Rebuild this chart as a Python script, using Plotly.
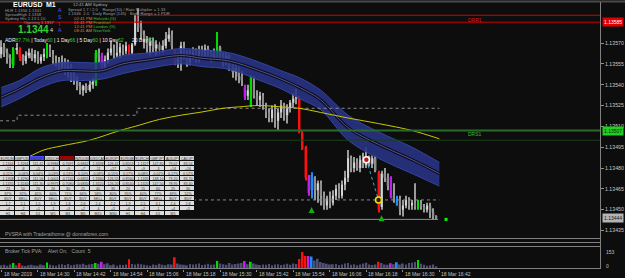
import numpy as np
import plotly.graph_objects as go

W, H = 625, 278
BG = "#0d0d0d"

# ---------------- data (prices in points, 1 point = 0.00001) ----------------
opens_pts = [
113562,113567,113563,113559,113554,113565,113565,113560,113557,113561,
113563,113559,113562,113557,113560,113561,113567,113562,113557,113556,
113553,113556,113550,113553,113548,113543,113539,113536,113539,113536,
113540,113541,113563,113561,113553,113558,113563,113566,113561,113563,
113567,113564,113567,113563,113569,113585,113581,113576,113572,113568,
113571,113566,113569,113565,113568,113573,113576,113563,113556,113559,
113568,113561,113556,113561,113563,113559,113565,113561,113566,113563,
113559,113560,113567,113561,113558,113561,113555,113549,113552,113546,
113538,113532,113525,113545,113532,113529,113532,113525,113520,113516,
113522,113514,113520,113525,113518,113523,113527,113530,113531,113505,
113495,113473,113464,113473,113464,113469,113460,113453,113458,113455,
113460,113465,113460,113468,113473,113487,113480,113484,113480,113486,
113482,113488,113483,113487,113477,113452,113476,113473,113473,113460,
113453,113458,113450,113453,113457,113453,113455,113451,113455,113452,
113450,113453,113448,113445]
highs_pts = [
113572,113570,113566,113562,113567,113570,113567,113562,113564,113566,
113566,113565,113564,113562,113566,113570,113569,113565,113561,113560,
113561,113559,113558,113555,113550,113546,113542,113540,113541,113543,
113545,113565,113566,113563,113561,113566,113572,113569,113571,113570,
113569,113571,113569,113570,113590,113595,113586,113579,113575,113574,
113574,113572,113571,113572,113578,113581,113579,113565,113563,113571,
113571,113565,113565,113567,113566,113568,113568,113569,113568,113565,
113566,113578,113568,113563,113563,113562,113558,113555,113553,113550,
113540,113540,113547,113546,113536,113535,113534,113527,113523,113525,
113526,113523,113529,113527,113526,113529,113534,113537,113532,113507,
113496,113475,113477,113474,113471,113471,113463,113460,113463,113464,
113468,113469,113471,113478,113493,113489,113488,113487,113489,113491,
113495,113489,113489,113489,113478,113478,113480,113476,113474,113469,
113460,113460,113457,113460,113459,113457,113469,113457,113457,113454,
113455,113455,113451,113446]
lows_pts = [
113559,113560,113555,113552,113552,113562,113557,113554,113555,113559,
113557,113556,113555,113555,113557,113559,113560,113555,113553,113549,
113550,113547,113545,113542,113540,113536,113533,113532,113534,113535,
113537,113539,113556,113550,113550,113555,113561,113558,113559,113559,
113561,113562,113561,113562,113568,113578,113572,113566,113563,113561,
113563,113561,113562,113563,113566,113571,113565,113554,113552,113550,
113558,113553,113554,113558,113556,113556,113558,113558,113560,113556,
113558,113559,113558,113553,113554,113550,113545,113543,113541,113539,
113529,113529,113524,113530,113525,113524,113522,113516,113513,113513,
113509,113507,113516,113514,113512,113520,113524,113526,113505,113493,
113471,113460,113458,113457,113455,113453,113450,113450,113451,113453,
113457,113458,113458,113464,113470,113477,113477,113478,113477,113480,
113480,113481,113480,113477,113448,113450,113470,113464,113458,113455,
113453,113446,113445,113451,113450,113450,113450,113450,113450,113448,
113448,113444,113443,113443]
closes_pts = [
113567,113563,113559,113555,113565,113566,113560,113557,113561,113563,
113559,113562,113557,113560,113562,113567,113562,113557,113556,113553,
113556,113550,113553,113548,113543,113539,113536,113539,113536,113540,
113542,113563,113559,113553,113558,113563,113566,113561,113563,113567,
113564,113568,113563,113569,113585,113581,113576,113572,113568,113571,
113566,113569,113565,113568,113573,113576,113568,113556,113559,113568,
113561,113556,113561,113563,113559,113565,113561,113566,113563,113559,
113561,113567,113561,113558,113561,113555,113549,113552,113546,113543,
113531,113536,113545,113532,113529,113532,113525,113520,113516,113522,
113514,113520,113525,113518,113523,113527,113530,113532,113506,113494,
113473,113462,113475,113464,113469,113460,113453,113458,113455,113460,
113465,113460,113468,113473,113487,113480,113484,113480,113486,113482,
113488,113483,113487,113478,113450,113476,113473,113467,113459,113457,
113458,113450,113453,113457,113453,113455,113452,113455,113452,113450,
113453,113448,113445,113444]
tick_volume = [
30,35,25,38,52,30,50,28,22,30,
35,28,25,38,30,55,35,30,25,36,
40,32,42,30,35,40,36,45,32,38,
42,52,45,63,40,48,30,36,25,34,
32,38,85,42,36,45,40,34,30,25,
38,32,44,34,30,40,36,104,46,38,
34,30,42,36,40,46,32,38,44,34,
36,70,46,40,34,52,38,42,46,50,
70,40,63,46,36,32,38,34,42,30,
36,40,32,38,44,34,46,42,88,153,
116,116,110,75,90,60,50,44,38,40,
42,32,38,46,52,34,40,30,36,46,
54,38,32,36,63,50,38,34,48,40,
57,36,46,38,50,54,60,79,44,34,
26,30,38,20]
# PVSRA highlighted bars (bar index -> kind)
pvsra_bars = {4: "green", 6: "red", 15: "green", 31: "green", 33: "magenta", 42: "red",
              57: "red", 71: "green", 80: "magenta", 82: "green", 98: "red", 99: "red",
              100: "red", 101: "magenta", 102: "blue", 124: "red", 128: "magenta",
              130: "blue", 137: "green"}

# moving-average envelope band
band_idx = [0, 6, 13, 20, 26, 33, 40, 49, 59, 66, 75, 85, 92, 98, 105, 114, 124, 135, 144]
band_upper = [113538,113543,113552,113556,113556,113556,113561,113563,113566,113565,113563,
              113556,113550,113545,113536,113518,113506,113495,113484]
band_lower = [113524,113530,113538,113543,113543,113544,113548,113552,113555,113553,113551,
              113543,113537,113530,113522,113500,113487,113476,113467]
band_mid = [113531,113537,113545,113550,113550,113550,113555,113558,113561,113559,113557,
            113550,113544,113538,113529,113509,113497,113486,113476]

# yellow moving average
ma_idx = [6, 9, 14, 20, 29, 39, 44, 52, 59, 65, 73, 78, 85, 92, 98, 105, 114, 124, 135, 144]
ma_val = [113485,113488,113493,113496,113500,113507,113510,113515,113518,113520,113523,
          113524,113525,113524,113523,113520,113516,113512,113507,113501]

# stepped dotted level
step_idx = [-0.4, 5.2, 44.6, 144]
step_val = [113514, 113518, 113523, 113523]

# levels
drr1 = 113585
red_upper = 113590
red_upper_start = 44.6
drs1 = 113507
green_thin = 113500
dotted_low = 113457
dotted_low_start = 63
low_line = 113443
current_price = 113444

# markers
swing_hi = (120, 113486)
swing_lo = (124, 113457)
up_arrows_idx = [102, 125]
up_arrows_val = [113452, 113446]
green_dot = (146.2, 113443)

price_ticks = [113570, 113555, 113540, 113525, 113510, 113495, 113480, 113465, 113450, 113435]

time_labels = ["18 Mar 2019", "18 Mar 14:30", "18 Mar 14:42", "18 Mar 14:54", "18 Mar 15:06",
               "18 Mar 15:18", "18 Mar 15:30", "18 Mar 15:42", "18 Mar 15:54", "18 Mar 16:06",
               "18 Mar 16:18", "18 Mar 16:30", "18 Mar 16:42"]
time_label_bars = [0, 12, 24, 36, 48, 60, 72, 84, 96, 108, 120, 132, 144]

table_text = [
    ["EURUSD", "GBPUSD", "USDJPY", "USDCHF", "AUDUSD", "NZDUSD", "USDCAD", "EURJPY", "EURGBP", "EURCHF", "GBPJPY", "AUDJPY", "CADJPY"],
    ["1.1344", "1.3264", "111.42", "0.9984", "0.7097", "0.6842", "1.3338", "126.41", "0.8553", "1.1327", "147.80", "79.07", "83.54"],
    ["+12", "-8", "+5", "-3", "+9", "+7", "-11", "+17", "+20", "+9", "-3", "+14", "+16"],
    ["0.11%", "-0.06%", "0.04%", "-0.03%", "0.13%", "0.10%", "-0.08%", "0.15%", "0.17%", "0.08%", "-0.02%", "0.17%", "0.12%"],
    ["1.1358", "1.3290", "111.56", "1.0001", "0.7110", "0.6855", "1.3360", "126.55", "0.8560", "1.1335", "148.10", "79.20", "83.70"],
    ["1.1335", "1.3240", "111.30", "0.9975", "0.7080", "0.6830", "1.3320", "126.20", "0.8540", "1.1320", "147.50", "78.95", "83.40"],
    ["23", "50", "26", "26", "30", "25", "40", "35", "20", "15", "60", "25", "30"],
    ["87%", "92%", "45%", "60%", "71%", "66%", "58%", "80%", "95%", "40%", "77%", "69%", "52%"],
    ["BUY", "SELL", "BUY", "SELL", "BUY", "BUY", "SELL", "BUY", "BUY", "BUY", "SELL", "BUY", "BUY"],
    ["1.7", "2.1", "1.5", "1.9", "1.8", "2.6", "2.4", "2.2", "1.9", "2.5", "3.1", "2.4", "2.8"],
    ["+4", "-2", "+1", "-1", "+3", "+2", "-4", "+5", "+6", "+2", "-1", "+4", "+5"],
    ["H1", "H4", "D1", "W1", "M1", "M5", "M15", "M30", "H1", "H4", "D1", "W1", ""],
]
table_kind = [[0, 0, 1, 0, 2, 0, 0, 0, 0, 0, 0, 0, 0]] + [[0] * 13 for _ in range(10)] + [[0] * 12 + [None]]

# ---------------- helpers ----------------
def pxx(x):
    return x / W

def pxy(y):
    return 1 - y / H

P = 1e-5
opens = np.array(opens_pts) * P
highs = np.array(highs_pts) * P
lows = np.array(lows_pts) * P
closes = np.array(closes_pts) * P
n = len(opens)
idx = np.arange(n)

COL = {"green": "#00dc00", "red": "#ff1010", "magenta": "#c020f0", "blue": "#1e8cff"}
BULL, BEAR = "#d6d6d6", "#8c8c8c"

body_col, wick_col, vol_col = [], [], []
for i in range(n):
    k = pvsra_bars.get(i)
    if k:
        body_col.append(COL[k]); wick_col.append(COL[k]); vol_col.append(COL[k])
    else:
        c = BULL if closes[i] >= opens[i] else BEAR
        body_col.append(c); wick_col.append("#9a9a9a"); vol_col.append("#4e4e78")

body_base = np.minimum(opens, closes)
body_h = np.maximum(np.abs(closes - opens), 0.6 * P)

fig = go.Figure()

# band
bx = band_idx
fig.add_trace(go.Scatter(x=bx, y=np.array(band_lower) * P, mode="lines", line=dict(color="#3444a0", width=1, shape="spline"),
                         hoverinfo="skip"))
fig.add_trace(go.Scatter(x=bx, y=np.array(band_upper) * P, mode="lines", line=dict(color="#3444a0", width=1, shape="spline"),
                         fill="tonexty", fillcolor="rgba(40,52,135,0.88)", hoverinfo="skip"))
fig.add_trace(go.Scatter(x=bx, y=np.array(band_mid) * P, mode="lines", line=dict(color="#0c0c28", width=3.2, shape="spline"),
                         hoverinfo="skip"))
fig.add_trace(go.Scatter(x=bx, y=np.array(band_mid) * P, mode="lines", line=dict(color="#7a7a9a", width=0.7, shape="spline"),
                         hoverinfo="skip"))

# dotted / level lines
fig.add_trace(go.Scatter(x=step_idx, y=np.array(step_val) * P, mode="lines",
                         line=dict(color="#8a8a8a", width=1, dash="dot", shape="hv"), hoverinfo="skip"))
fig.add_trace(go.Scatter(x=[dotted_low_start, 144], y=[dotted_low * P] * 2, mode="lines",
                         line=dict(color="#8a8a8a", width=1, dash="dot"), hoverinfo="skip"))
fig.add_trace(go.Scatter(x=[-0.4, 143.6], y=[low_line * P] * 2, mode="lines",
                         line=dict(color="#909090", width=1), hoverinfo="skip"))
fig.add_trace(go.Scatter(x=[red_upper_start, red_upper_start, 200], y=[drr1 * P, red_upper * P, red_upper * P], mode="lines",
                         line=dict(color="#d00000", width=1), hoverinfo="skip"))

# yellow MA
fig.add_trace(go.Scatter(x=ma_idx, y=np.array(ma_val) * P, mode="lines",
                         line=dict(color="#c8c800", width=1, shape="spline"), hoverinfo="skip"))

# candles
fig.add_trace(go.Bar(x=idx, y=highs - lows, base=lows, width=0.33, marker=dict(color=wick_col, line=dict(width=0)),
                     hoverinfo="skip"))
fig.add_trace(go.Bar(x=idx, y=body_h, base=body_base, width=0.66, marker=dict(color=body_col, line=dict(width=0)),
                     hoverinfo="skip"))

# swing markers
fig.add_trace(go.Scatter(x=[swing_hi[0], swing_lo[0]], y=[swing_hi[1] * P, swing_lo[1] * P], mode="lines",
                         line=dict(color="#20b8d8", width=1, dash="dot"), hoverinfo="skip"))
fig.add_trace(go.Scatter(x=[swing_hi[0]], y=[swing_hi[1] * P], mode="markers",
                         marker=dict(symbol="circle", size=6, color="#c01010", line=dict(color="white", width=1.5)), hoverinfo="skip"))
fig.add_trace(go.Scatter(x=[swing_lo[0]], y=[swing_lo[1] * P], mode="markers",
                         marker=dict(symbol="circle", size=6, color="#202020", line=dict(color="#f0e000", width=1.6)), hoverinfo="skip"))
fig.add_trace(go.Scatter(x=up_arrows_idx, y=np.array(up_arrows_val) * P, mode="markers",
                         marker=dict(symbol="arrow-up", size=6, color="#10b010"), hoverinfo="skip"))
fig.add_trace(go.Scatter(x=[green_dot[0]], y=[green_dot[1] * P], mode="markers",
                         marker=dict(symbol="square", size=3, color="#00ff00"), hoverinfo="skip"))

# volume
fig.add_trace(go.Bar(x=idx, y=tick_volume, width=0.6, marker=dict(color=vol_col, line=dict(width=0)),
                     xaxis="x2", yaxis="y2", hoverinfo="skip"))

# table
fig.add_trace(go.Heatmap(z=table_kind, text=table_text, texttemplate="%{text}",
                         textfont=dict(size=3.6, color="#303030", family="Liberation Sans"),
                         zmin=0, zmax=2, showscale=False, xgap=1, ygap=1,
                         colorscale=[[0, "#dcdcdc"], [0.33, "#dcdcdc"], [0.34, "#4a4aff"], [0.66, "#4a4aff"],
                                     [0.67, "#a80000"], [1, "#a80000"]],
                         xaxis="x3", yaxis="y3", hoverinfo="skip"))

XR = [-0.43, 196.8]
X_DOM = [0, 600 / W]
fig.update_layout(
    width=W, height=H, margin=dict(l=0, r=0, t=0, b=0),
    paper_bgcolor=BG, plot_bgcolor=BG, showlegend=False, barmode="overlay",
    font=dict(family="Liberation Sans, Arial, sans-serif", color="#c0c0c0"),
    xaxis=dict(domain=X_DOM, range=XR, showgrid=False, zeroline=False, showticklabels=False, anchor="y"),
    yaxis=dict(domain=[pxy(238), pxy(4)], range=[1.134296, 1.135981], side="right", anchor="x",
               showgrid=False, zeroline=False, tickvals=[v * P for v in price_ticks],
               ticktext=["%.5f" % (v * P) for v in price_ticks], ticks="outside", ticklen=3,
               tickcolor="#909090", tickfont=dict(size=5.2, color="#c8c8c8")),
    xaxis2=dict(domain=X_DOM, range=XR, showgrid=False, zeroline=False, showticklabels=False, anchor="y2",
                tickvals=time_label_bars, ticks="outside", ticklen=2, tickcolor="#909090"),
    yaxis2=dict(domain=[pxy(268.5), pxy(247)], range=[0, 199], side="right", anchor="x2",
                showgrid=False, zeroline=False, showticklabels=False),
    xaxis3=dict(domain=[0, 195 / W], range=[-0.5, 12.5], visible=False, anchor="y3"),
    yaxis3=dict(domain=[pxy(216), pxy(156)], range=[11.5, -0.5], visible=False, anchor="x3"),
)

shapes = []
def hline(y, x0=0, x1=600, color="#808080", width=1):
    shapes.append(dict(type="line", xref="paper", yref="paper", x0=pxx(x0), x1=pxx(x1), y0=pxy(y), y1=pxy(y),
                       line=dict(color=color, width=width)))
hline(1.5, 0, 625, "#4a4a4a", 2)
hline(238.5); hline(242.5); hline(246.5); hline(268.5)
shapes.append(dict(type="line", xref="paper", yref="paper", x0=pxx(600.5), x1=pxx(600.5), y0=pxy(269), y1=pxy(2),
                   line=dict(color="#808080", width=1)))
# price levels spanning full width
for val, col, wd in [(drr1, "#d00000", 1), (drs1, "#2a6a2a", 2), (green_thin, "#1c401c", 1)]:
    shapes.append(dict(type="line", xref="paper", yref="y", x0=0, x1=pxx(600), y0=val * P, y1=val * P,
                       line=dict(color=col, width=wd)))
fig.update_layout(shapes=shapes)

ann = []
def txt(x, y, s, size=5, color="#a8a8a8", anchor="left", bold=False, bg=None, family=None):
    d = dict(x=pxx(x), y=pxy(y), xref="paper", yref="paper", text=("<b>%s</b>" % s) if bold else s,
             showarrow=False, xanchor=anchor, yanchor="middle",
             font=dict(size=size, color=color, family=family or "Liberation Sans, Arial, sans-serif"))
    if bg:
        d.update(bgcolor=bg, borderpad=1)
    ann.append(d)

# header texts
txt(11, 4.6, "EURUSD", 7, "#ffffff", bold=True)
txt(44, 4.6, "M1", 7, "#ffffff", bold=True)
txt(71, 4.3, "12:41 AM Sydney", 4.4, "#b0b0b0")
# gray info lines (split around the vertical ASIA label)
txt(3, 10.6, "HLR 1.1356 1.1341", 4.2, "#9a9a9a")
txt(66, 9.4, "Spread 1.7 / 2.0    Range(10) / Rate Multiplier = 1.33", 4.2, "#9a9a9a")
txt(3, 14.6, "SpreadHigh 1.1358", 4.2, "#9a9a9a")
txt(66, 13.6, "1.1346  2.0   Daily Range (145)   Body Range = 1 PDR", 4.2, "#9a9a9a")
txt(3, 18.5, "Sydney Hrs 1.13 1.10", 4.2, "#9a9a9a")
txt(22, 22.2, "Opening 1.1357", 4.2, "#9a9a9a")
ann.append(dict(x=pxx(60), y=pxy(20), xref="paper", yref="paper", text="A<br>S<br>I<br>A", showarrow=False,
                xanchor="center", yanchor="middle", font=dict(size=5.2, color="#5a5aff")))
sess = [("02:41 PM", "Helsinki (G)", 18.0), ("01:41 PM", "Frankfurt", 22.2), ("12:41 PM", "London (G)", 26.4),
        ("08:41 AM", "NewYork", 30.6)]
for t, name, y in sess:
    txt(72, y, "<span style='color:#d0803a'>%s</span> <span style='color:#38c038'>%s</span>" % (t, name), 4.3)
txt(16, 29.6, "1.1344", 10, "#30d030", bold=True)
txt(48, 30.0, "4", 5.5, "#e0e0e0")
G = "<span style='color:#30d030'>%s</span>"
txt(3, 39.8, "ADR" + G % "87.7%" + " | Today" + G % "60" + " | 1 Day" + G % "66" + " | 5 Day" + G % "60" +
    " | 10 Day" + G % "62" + "      20 Day" + G % "62", 5.0, "#f0f0f0")

# level labels
txt(466, 20.5, "DRR1", 5, "#e01010")
txt(466, 134, "DRS1", 5, "#30c030")

# right-axis price boxes
def ybox(val):
    return dict(x=pxx(601.5), y=val * P, xref="paper", yref="y", showarrow=False, xanchor="left", yanchor="middle")
for val, bg, fc in [(drr1, "#e00000", "#ffffff"), (drs1, "#20d020", "#0a2a0a"), (current_price, "#b4b4b4", "#202020")]:
    d = ybox(val)
    d.update(text="%.5f" % (val * P), bgcolor=bg, borderpad=1, font=dict(size=5, color=fc))
    ann.append(d)

# bottom texts
txt(3, 234, "PVSRA with Traderathome @ donnaforex.com", 5, "#a0a0a0")
txt(3, 250.5, "Broker Tick PVA:    Alert On,   Count  5", 5, "#a0a0a0")
txt(604, 252, "153", 5, "#c0c0c0")
txt(604, 265.5, "0", 5, "#c0c0c0")

for b, s in zip(time_label_bars, time_labels):
    ann.append(dict(x=max(b, 0.3), y=pxy(273.5), xref="x2", yref="paper", text=s, showarrow=False,
                    xanchor="left", yanchor="middle", font=dict(size=5, color="#c0c0c0")))

fig.update_layout(annotations=ann)
fig.write_html("out.html", config={"displayModeBar": False})
